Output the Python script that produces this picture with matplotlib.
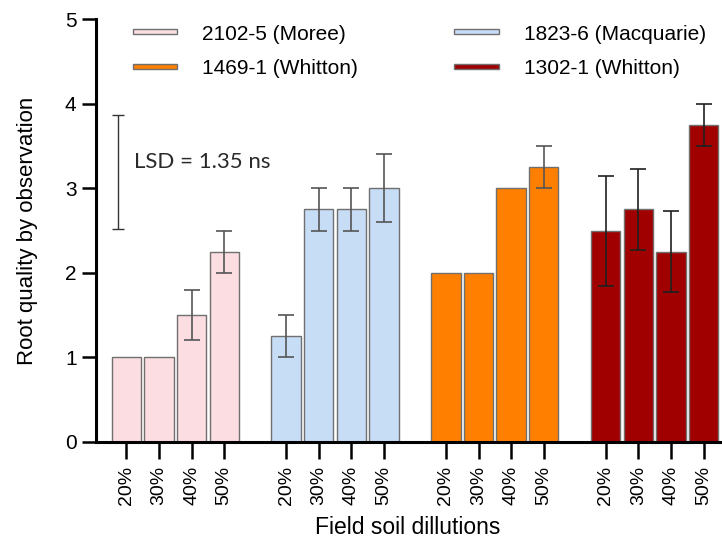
import numpy as np
import matplotlib
matplotlib.use('Agg')
import matplotlib.pyplot as plt

plt.rcParams['font.family'] = ['Liberation Sans', 'DejaVu Sans']

# Data
groups = ['2102-5 (Moree)', '1823-6 (Macquarie)', '1469-1 (Whitton)', '1302-1 (Whitton)']
dilutions = ['20%', '30%', '40%', '50%']
means = [
    [1.0, 1.0, 1.5, 2.25],
    [1.25, 2.75, 2.75, 3.0],
    [2.0, 2.0, 3.0, 3.25],
    [2.5, 2.75, 2.25, 3.75],
]
errors = [
    [0, 0, 0.3, 0.25],
    [0.25, 0.25, 0.25, 0.4],
    [0, 0, 0, 0.25],
    [0.65, 0.48, 0.48, 0.25],
]
colors = ['#FCDDE1', '#C7DCF5', '#FF8000', '#A00000']
lsd = 1.35
lsd_center = 3.19

fig = plt.figure(figsize=(7.22, 5.45), dpi=100)
ax = fig.add_axes([0.133, 0.189, 0.864, 0.776])

group_step = 4.9
ticks, ticklabels = [], []
for g, name in enumerate(groups):
    x = g * group_step + np.arange(len(dilutions))
    ax.bar(x, means[g], width=0.9, color=colors[g], edgecolor='#707070',
           linewidth=1.0, label=name, zorder=2)
    yerr = np.array(errors[g])
    mask = yerr > 0
    ecol = '#202020' if g == 3 else '#555555'
    ax.errorbar(x[mask], np.array(means[g])[mask], yerr=yerr[mask], fmt='none',
                ecolor=ecol, elinewidth=1.2, capsize=5.5, capthick=1.2, zorder=3)
    ticks.extend(x)
    ticklabels.extend(dilutions)

# LSD bar
ax.errorbar([-0.25], [lsd_center], yerr=[lsd / 2], fmt='none', ecolor='#333333',
            elinewidth=1.0, capsize=4, capthick=1.0)
ax.text(0.22, 3.31, 'LSD = 1.35 ns', fontsize=16, va='center', ha='left',
        family=['Lato', 'DejaVu Sans'], color='#2a2a2a')

ax.set_xlim(-0.93, 18.2)
ax.set_ylim(0, 5)
ax.set_yticks([0, 1, 2, 3, 4, 5])
ax.set_xticks(ticks)
ax.set_xticklabels(ticklabels, rotation=90, fontsize=14)
ax.tick_params(axis='y', labelsize=15, length=10, width=1.8, pad=4)
ax.tick_params(axis='x', length=12, width=1.8, pad=5)
for s in ['top', 'right']:
    ax.spines[s].set_visible(False)
for s in ['left', 'bottom']:
    ax.spines[s].set_linewidth(2.2)

ax.set_ylabel('Root quality by observation', fontsize=16, labelpad=19)
ax.set_xlabel('Field soil dillutions', fontsize=16.5, labelpad=8)

handles, labels = ax.get_legend_handles_labels()
order = [0, 2, 1, 3]
leg = ax.legend([handles[i] for i in order], [labels[i] for i in order],
                ncol=2, loc='upper left', bbox_to_anchor=(118 / 722, 1 - 10 / 545),
                bbox_transform=fig.transFigure, frameon=False, fontsize=15,
                handlelength=2.15, handleheight=0.0, handletextpad=1.2,
                columnspacing=4.6, labelspacing=0.75, borderpad=0.2)

fig.savefig('out.png', dpi=100)
